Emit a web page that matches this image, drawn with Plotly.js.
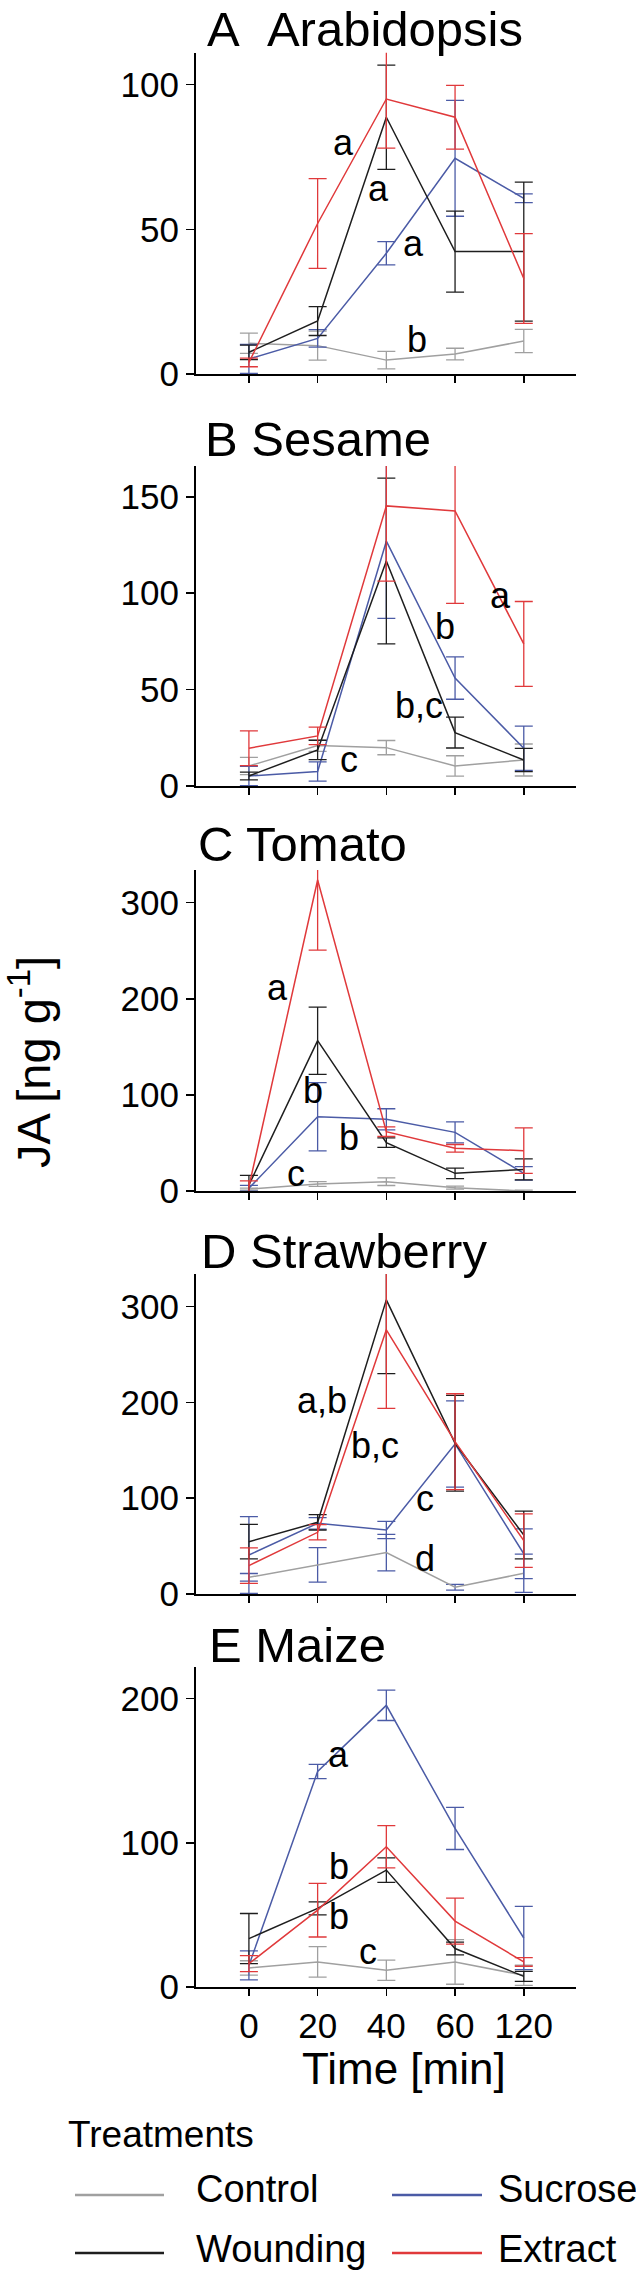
<!DOCTYPE html>
<html>
<head>
<meta charset="utf-8">
<script src="https://cdn.plot.ly/plotly-3.0.1.min.js"></script>
<style>
body { margin: 0; background: #fff; }
#chart { width: 636px; height: 2282px; }
</style>
</head>
<body>
<div id="chart"></div>
<script>
var times = ["0", "20", "40", "60", "120"];
var treatments = ["Control", "Sucrose", "Wounding", "Extract"];
var colors = ["#a0a0a0", "#4b5ba6", "#1e1e1e", "#e0393b"];

// JA [ng/g], one row per treatment (Control, Sucrose, Wounding, Extract)
var arabidopsisMean = [[10.6, 9.8, 4.8, 6.9, 11.4], [5.2, 12.3, 41.7, 74.5, 60.7], [7.5, 18.3, 88.7, 42.3, 42.3], [4, 52, 95, 88.7, 33]];
var arabidopsisErr = [[3.5, 5, 3, 2, 4], [5, 3, 4, 20, 1.5], [2.5, 5, 18, 14, 24], [1.5, 15.5, 17, 11, 15.5]];
var arabidopsisLetters = ["a", "a", "a", "b"];

var sesameMean = [[10.4, 21, 19.9, 10.4, 13.5], [5.2, 7.5, 127, 56, 19.6], [5.2, 18.7, 116.7, 27.7, 13.5], [19.6, 26, 145.3, 142.7, 73.7]];
var sesameErr = [[4.5, 3, 3.7, 5.3, 8.3], [5, 5, 40, 11, 11.5], [2, 5, 43, 8, 6], [9, 4.5, 39, 48, 22]];
var sesameLetters = ["a", "b", "b,c", "c"];

var tomatoMean = [[2, 7.3, 9.7, 3.5, 0], [2.8, 77.3, 74.6, 61, 18.4], [6.2, 156.4, 50.3, 18.4, 22.5], [4.5, 323.6, 61.7, 44.4, 42]];
var tomatoErr = [[1, 2.5, 4, 1.5, 1], [3, 35.5, 11, 11, 7], [10, 35, 5, 5.5, 11], [6, 73, 5, 4, 23.6]];
var tomatoLetters = ["a", "b", "b", "c"];

var strawberryMean = [[17.4, 30.3, 43.2, 7, 21.6], [40.7, 73.8, 66.8, 156.6, 42], [54.6, 74.8, 307, 157.3, 61.6], [29.6, 64.4, 275.7, 159, 55.7]];
var strawberryErr = [[4, 18, 19, 3, 20], [40, 6, 9, 45, 26], [18, 8, 77, 50, 25], [18.5, 8, 82, 50, 28]];
var strawberryLetters = ["a,b", "b,c", "c", "d"];

var maizeMean = [[13.2, 17.4, 11.6, 17.4, 8.1], [15, 149.5, 195.4, 110, 34], [33.6, 54.5, 81.1, 26.7, 7.4], [16.2, 53.3, 97.3, 45.7, 17.4]];
var maizeErr = [[5, 10.6, 7, 15.5, 7], [10, 5, 10.5, 14.6, 22], [17.4, 4.5, 8.5, 4.4, 3.5], [5.5, 18.6, 14.6, 16, 3]];
var maizeLetters = ["a", "b", "b", "c"];

var W = 636, H = 2282;
function px(v) { return v / W; }
function py(v) { return 1 - v / H; }

var sans = "Liberation Sans, Arial, sans-serif";

var panels = [
    {title: "A\u00a0\u00a0Arabidopsis", mean: arabidopsisMean, err: arabidopsisErr, letters: arabidopsisLetters,
     ymax: 111, dtick: 50, top: 52.7, bottom: 374, titleX: 205, titleY: 29,
     letterPos: [[1.37, 80], [1.88, 64], [2.39, 45], [2.44, 12]]},
    {title: "B Sesame", mean: sesameMean, err: sesameErr, letters: sesameLetters,
     ymax: 166, dtick: 50, top: 466, bottom: 786, titleX: 203, titleY: 439,
     letterPos: [[3.66, 99], [2.86, 83], [2.47, 42], [1.46, 13.5]]},
    {title: "C Tomato", mean: tomatoMean, err: tomatoErr, letters: tomatoLetters,
     ymax: 334, dtick: 100, top: 870, bottom: 1191, titleX: 196, titleY: 844,
     letterPos: [[0.42, 212], [0.93, 105], [1.46, 56], [0.69, 18]]},
    {title: "D Strawberry", mean: strawberryMean, err: strawberryErr, letters: strawberryLetters,
     ymax: 334, dtick: 100, top: 1274, bottom: 1594, titleX: 199, titleY: 1251, errColor: {0: colors[1]},
     letterPos: [[1.07, 202], [1.83, 155], [2.56, 100], [2.56, 37]]},
    {title: "E Maize", mean: maizeMean, err: maizeErr, letters: maizeLetters,
     ymax: 222, dtick: 100, top: 1667, bottom: 1987, titleX: 207, titleY: 1645,
     letterPos: [[1.31, 161], [1.31, 83.5], [1.31, 49], [1.73, 24.5]]}
];

var data = [];
var layout = {
    width: W, height: H,
    margin: {l: 0, r: 0, t: 0, b: 0},
    paper_bgcolor: "#fff", plot_bgcolor: "#fff",
    showlegend: false,
    annotations: [],
    shapes: []
};

panels.forEach(function(p, k) {
    var n = k + 1;
    var last = k === panels.length - 1;
    for (var i = 0; i < treatments.length; i++) {
        var ec = (p.errColor && p.errColor[i]) ? p.errColor[i] : colors[i];
        data.push({
            x: times, y: p.mean[i],
            xaxis: "x" + n, yaxis: "y" + n,
            type: "scatter", mode: "lines",
            name: treatments[i],
            line: {color: colors[i], width: 1.5},
            error_y: {type: "data", array: p.err[i], visible: true, color: ec, thickness: 1.3, width: 9},
            hoverinfo: "skip"
        });
    }
    layout["xaxis" + n] = {
        domain: [px(196), px(576)], anchor: "y" + n,
        type: "category", range: [-0.77, 4.76],
        showline: true, linewidth: 2, linecolor: "#000",
        ticks: "outside", ticklen: 7, tickwidth: 1.5, tickcolor: "#000",
        showticklabels: last, tickfont: {family: sans, size: 35, color: "#000"},
        showgrid: false, zeroline: false, fixedrange: true
    };
    layout["yaxis" + n] = {
        domain: [py(p.bottom), py(p.top)], anchor: "x" + n,
        range: [0, p.ymax], tick0: 0, dtick: p.dtick,
        showline: true, linewidth: 2, linecolor: "#000",
        ticks: "outside", ticklen: 8, tickwidth: 1.5, tickcolor: "#000",
        tickfont: {family: sans, size: 35, color: "#000"},
        showgrid: false, zeroline: false, fixedrange: true
    };
    layout.annotations.push({
        xref: "paper", yref: "paper", x: px(p.titleX), y: py(p.titleY),
        xanchor: "left", yanchor: "middle", showarrow: false,
        text: p.title, font: {family: sans, size: 49, color: "#000"}
    });
    p.letters.forEach(function(t, j) {
        layout.annotations.push({
            xref: "x" + n, yref: "y" + n, x: p.letterPos[j][0], y: p.letterPos[j][1],
            xanchor: "center", yanchor: "middle", showarrow: false,
            text: t, font: {family: sans, size: 36, color: "#000"}
        });
    });
});

// axis titles
layout.annotations.push({
    xref: "paper", yref: "paper", x: px(30), y: py(1062),
    xanchor: "center", yanchor: "middle", showarrow: false, textangle: -90,
    text: "JA [ng g<sup>-1</sup>]", font: {family: sans, size: 47, color: "#000"}
});
layout.annotations.push({
    xref: "paper", yref: "paper", x: px(404), y: py(2068),
    xanchor: "center", yanchor: "middle", showarrow: false,
    text: "Time [min]", font: {family: sans, size: 44, color: "#000"}
});

// legend drawn by hand so the sample lines are long like the original
layout.annotations.push({
    xref: "paper", yref: "paper", x: px(66), y: py(2134),
    xanchor: "left", yanchor: "middle", showarrow: false,
    text: "Treatments", font: {family: sans, size: 37, color: "#000"}
});
var lineX = [[75, 164], [392, 482]];
var textX = [194, 496];
var rowY = [2195, 2253];
var textY = [2189, 2249];
treatments.forEach(function(t, i) {
    var col = i % 2, row = Math.floor(i / 2);
    layout.shapes.push({
        type: "line", xref: "paper", yref: "paper",
        x0: px(lineX[col][0]), x1: px(lineX[col][1]), y0: py(rowY[row]), y1: py(rowY[row]),
        line: {color: colors[i], width: 2.5}
    });
    layout.annotations.push({
        xref: "paper", yref: "paper", x: px(textX[col]), y: py(textY[row]),
        xanchor: "left", yanchor: "middle", showarrow: false,
        text: t, font: {family: sans, size: 38, color: "#000"}
    });
});

Plotly.newPlot("chart", data, layout, {staticPlot: true});
</script>
</body>
</html>
